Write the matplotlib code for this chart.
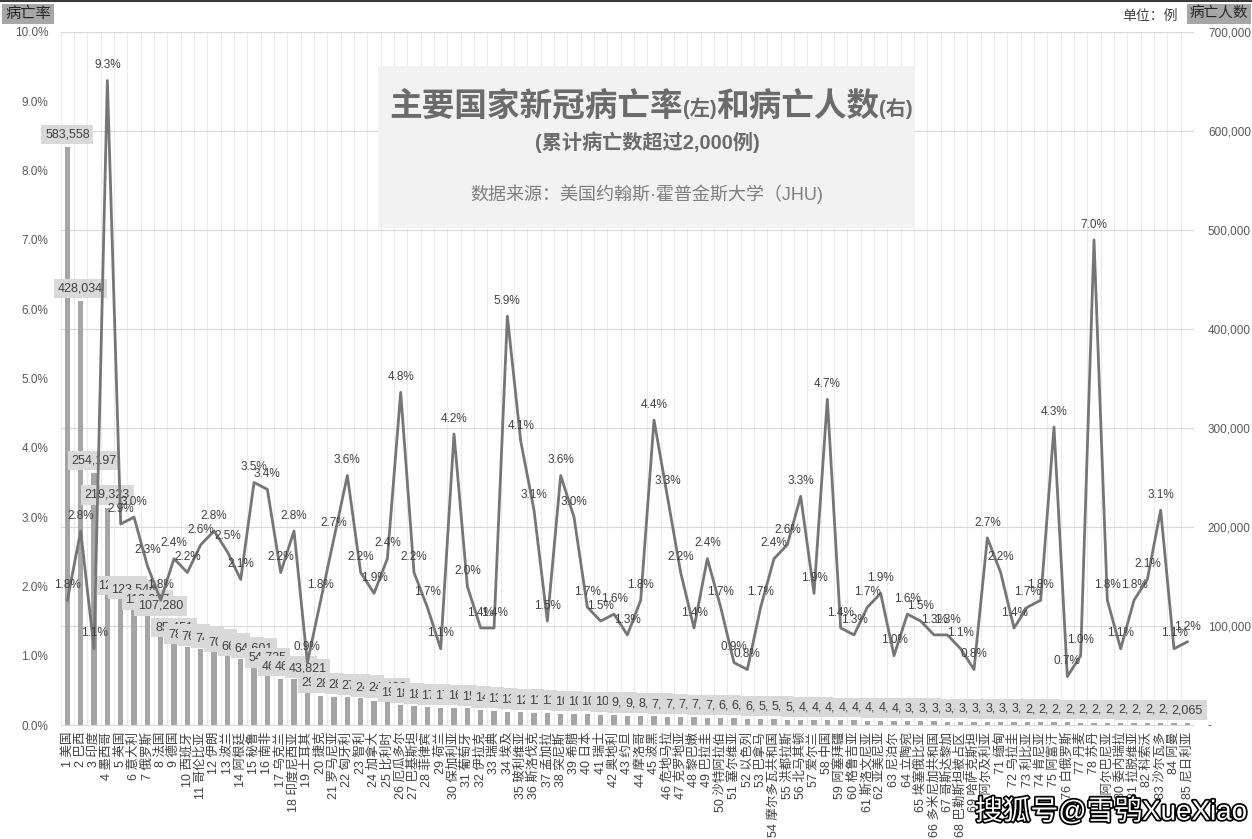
import matplotlib
matplotlib.use("Agg")
import matplotlib.pyplot as plt
import matplotlib.patheffects as pe
from matplotlib.patches import Rectangle
from matplotlib.lines import Line2D
from matplotlib.ticker import FuncFormatter, MultipleLocator

plt.rcParams["font.family"] = ["Liberation Sans", "Noto Sans CJK SC"]

# ── Datos ────────────────────────────────────────────────────────────────────
countries = [
    "美国", "巴西", "印度", "墨西哥", "英国", "意大利", "俄罗斯", "法国", "德国", "西班牙",
    "哥伦比亚", "伊朗", "波兰", "阿根廷", "秘鲁", "南非", "乌克兰", "印度尼西亚", "土耳其", "捷克",
    "罗马尼亚", "匈牙利", "智利", "加拿大", "比利时", "厄瓜多尔", "巴基斯坦", "菲律宾", "荷兰", "保加利亚",
    "葡萄牙", "伊拉克", "瑞典", "埃及", "玻利维亚", "斯洛伐克", "孟加拉", "突尼斯", "希腊", "日本",
    "瑞士", "奥地利", "约旦", "摩洛哥", "波黑", "危地马拉", "克罗地亚", "黎巴嫩", "巴拉圭", "沙特阿拉伯",
    "塞尔维亚", "以色列", "巴拿马", "摩尔多瓦共和国", "洪都拉斯", "北马其顿", "爱尔兰", "中国", "阿塞拜疆", "格鲁吉亚",
    "斯洛文尼亚", "亚美尼亚", "尼泊尔", "立陶宛", "埃塞俄比亚", "多米尼加共和国", "哥斯达黎加", "巴勒斯坦被占区", "哈萨克斯坦", "阿尔及利亚",
    "缅甸", "乌拉圭", "利比亚", "肯尼亚", "阿富汗", "白俄罗斯", "丹麦", "苏丹", "阿尔巴尼亚", "委内瑞拉",
    "拉脱维亚", "科索沃", "沙尔瓦多", "阿曼", "尼日利亚",
]

deaths = [
    583558, 428034, 254197, 219323, 127868, 123544, 113337, 107280, 85451, 78726,
    76414, 74524, 70012, 66316, 64601, 54735, 46504, 46349, 43821, 29480,
    28650, 28250, 27150, 24620, 24430, 19700, 18900, 18100, 17200, 17050,
    16970, 15600, 14200, 13500, 13000, 12000, 11900, 11500, 10800, 10700,
    10600, 10300, 9150, 9100, 8900, 7900, 7800, 7600, 7350, 7000,
    6800, 6400, 6100, 5900, 5500, 5100, 4900, 4850, 4700, 4600,
    4350, 4300, 4150, 4050, 3900, 3550, 3500, 3400, 3350, 3300,
    3250, 3200, 3100, 2950, 2800, 2650, 2500, 2450, 2400, 2350,
    2300, 2250, 2150, 2100, 2065,
]

rates = [
    1.8, 2.8, 1.1, 9.3, 2.9, 3.0, 2.3, 1.8, 2.4, 2.2,
    2.6, 2.8, 2.5, 2.1, 3.5, 3.4, 2.2, 2.8, 0.9, 1.8,
    2.7, 3.6, 2.2, 1.9, 2.4, 4.8, 2.2, 1.7, 1.1, 4.2,
    2.0, 1.4, 1.4, 5.9, 4.1, 3.1, 1.5, 3.6, 3.0, 1.7,
    1.5, 1.6, 1.3, 1.8, 4.4, 3.3, 2.2, 1.4, 2.4, 1.7,
    0.9, 0.8, 1.7, 2.4, 2.6, 3.3, 1.9, 4.7, 1.4, 1.3,
    1.7, 1.9, 1.0, 1.6, 1.5, 1.3, 1.3, 1.1, 0.8, 2.7,
    2.2, 1.4, 1.7, 1.8, 4.3, 0.7, 1.0, 7.0, 1.8, 1.1,
    1.8, 2.1, 3.1, 1.1, 1.2,
]

# ── Colores ──────────────────────────────────────────────────────────────────
COLOR_BAR = "#a5a5a5"
COLOR_LINE = "#767676"
COLOR_TXT = "#404040"
COLOR_TICK = "#595959"
COLOR_TITLE = "#6b6b6b"

W, H = 1252, 839


def fx(px):
    return px / W


def fy(py):
    return 1 - py / H


fig = plt.figure(figsize=(W / 100, H / 100), dpi=100)
fig.patch.set_facecolor("white")

ax = fig.add_axes([fx(60.7), fy(725), fx(1194) - fx(60.7), fy(32) - fy(725)])
x = list(range(len(countries)))

# barras (eje derecho)
ax.bar(x, deaths, width=0.38, color=COLOR_BAR, zorder=2)
ax.set_xlim(-0.5, len(x) - 0.5)
ax.set_ylim(0, 700000)
ax.grid(axis="y", color="#d9d9d9", lw=0.8, zorder=0)
for b in range(len(x) + 1):
    ax.axvline(b - 0.5, color="#ebebeb", lw=0.8, zorder=0)
ax.set_axisbelow(True)
for s in ("top", "left", "right"):
    ax.spines[s].set_visible(False)
ax.spines["bottom"].set_color("#d9d9d9")

ax.set_xticks(x)
ax.set_xticklabels([f"{i + 1} {c}" for i, c in enumerate(countries)],
                   rotation=90, fontsize=9, color=COLOR_TXT)
ax.tick_params(axis="x", length=0, pad=5)

for i, d in enumerate(deaths):
    ax.annotate(f"{d:,}", (i, d), xytext=(0, 5), textcoords="offset points",
                ha="center", va="bottom", fontsize=9, color=COLOR_TXT,
                bbox=dict(boxstyle="square,pad=0.3", fc="#d9d9d9", ec="none"),
                zorder=3)

# línea (eje izquierdo)
ax2 = ax.twinx()
ax2.yaxis.tick_left()
ax2.plot(x, rates, color=COLOR_LINE, lw=2, zorder=3)
ax2.set_ylim(0, 10)
ax2.yaxis.set_major_locator(MultipleLocator(1))
ax2.yaxis.set_major_formatter(FuncFormatter(lambda v, p: f"{v:.1f}%"))
ax2.tick_params(axis="y", length=0, pad=9, labelsize=8.5, labelcolor=COLOR_TICK)
for s in ax2.spines.values():
    s.set_visible(False)

# twinx mueve los ticks del eje original a la izquierda: devolverlos a la derecha
ax.yaxis.tick_right()
ax.yaxis.set_major_locator(MultipleLocator(100000))
ax.yaxis.set_major_formatter(
    FuncFormatter(lambda v, p: "-" if v == 0 else f"{v:,.0f}"))
ax.tick_params(axis="y", length=0, pad=10, labelsize=8.5, labelcolor=COLOR_TICK)

for i, r in enumerate(rates):
    ax2.annotate(f"{r:.1f}%", (i, r), xytext=(0, 11), textcoords="offset points",
                 ha="center", va="center", fontsize=8.5, color=COLOR_TXT, zorder=4)

# ── Cuadro de título ─────────────────────────────────────────────────────────
box = Rectangle((fx(378), fy(228)), fx(915) - fx(378), fy(66) - fy(228),
                transform=fig.transFigure, fc="#f2f2f2", ec="none",
                zorder=10, clip_on=False)
ax2.add_artist(box)

t1 = ax2.text(fx(389), fy(107), "主要国家新冠病亡率", transform=fig.transFigure,
              fontsize=23.5, weight="bold", color=COLOR_TITLE,
              ha="left", va="center", zorder=11)
t2 = ax2.annotate("(左)", xy=(1, 0), xycoords=t1, xytext=(0, 3),
                  textcoords="offset points", ha="left", va="bottom",
                  fontsize=14.5, weight="bold", color=COLOR_TITLE, zorder=11)
t3 = ax2.annotate("和病亡人数", xy=(1, 0), xycoords=t2, xytext=(0, -3),
                  textcoords="offset points", ha="left", va="bottom",
                  fontsize=23.5, weight="bold", color=COLOR_TITLE, zorder=11)
t4 = ax2.annotate("(右)", xy=(1, 0), xycoords=t3, xytext=(0, 3),
                  textcoords="offset points", ha="left", va="bottom",
                  fontsize=14.5, weight="bold", color=COLOR_TITLE, zorder=11)

ax2.text(fx(647), fy(142), "(累计病亡数超过2,000例)", transform=fig.transFigure,
         fontsize=14.5, weight="bold", color=COLOR_TITLE,
         ha="center", va="center", zorder=11)
ax2.text(fx(647), fy(194), "数据来源：美国约翰斯·霍普金斯大学（JHU)",
         transform=fig.transFigure, fontsize=13, color="#7f7f7f",
         ha="center", va="center", zorder=11)

# ── Rótulos de ejes y unidades ───────────────────────────────────────────────
fig.text(fx(5), fy(14), "病亡率", fontsize=11, color="#262626",
         ha="left", va="center",
         bbox=dict(boxstyle="square,pad=0.2", fc="#a6a6a6", ec="none"))
fig.text(fx(1190), fy(14), "病亡人数", fontsize=10.5, color="#262626",
         ha="left", va="center",
         bbox=dict(boxstyle="square,pad=0.2", fc="#a6a6a6", ec="none"))
fig.text(fx(1122), fy(16), "单位：例", fontsize=10, color=COLOR_TXT,
         ha="left", va="center")

fig.add_artist(Line2D([0, 1], [fy(0.8), fy(0.8)], transform=fig.transFigure,
                      color="#3a3a3a", lw=1.5))

fig.text(fx(975), fy(812), "搜狐号@雪鸮XueXiao", fontsize=20, color="white",
         ha="left", va="center", zorder=20,
         path_effects=[pe.withStroke(linewidth=2.5, foreground="black")])

fig.savefig("out.png", dpi=100, facecolor="white")
